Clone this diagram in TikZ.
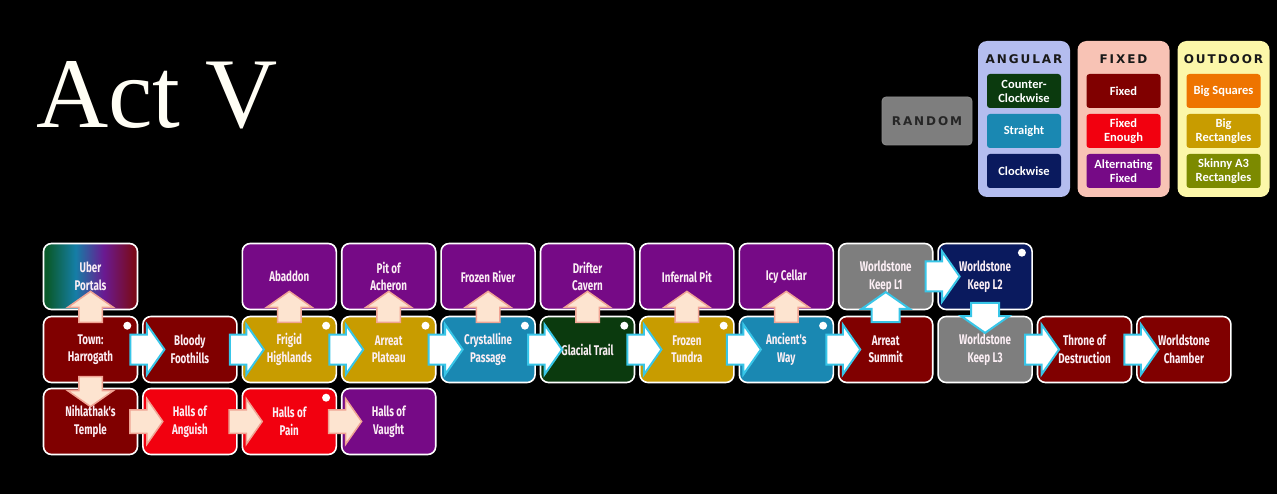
\documentclass[tikz,border=0pt]{standalone}
\usepackage{fontspec}
\setmainfont{Liberation Serif}
\newfontfamily\nodefont[FakeStretch=0.7]{Fira Sans}
\newfontfamily\legfont{Carlito}
\newfontfamily\exofont[LetterSpace=16]{DejaVu Sans}
\usetikzlibrary{shapes.arrows,calc}
\definecolor{cfixed}{HTML}{800000}
\definecolor{cenough}{HTML}{F2000F}
\definecolor{calt}{HTML}{760A86}
\definecolor{cccw}{HTML}{0B3A0E}
\definecolor{cstraight}{HTML}{1A88B2}
\definecolor{ccw}{HTML}{0A1A5E}
\definecolor{crandom}{HTML}{7E7E7E}
\definecolor{cgold}{HTML}{C89C00}
\definecolor{corange}{HTML}{EE7400}
\definecolor{colive}{HTML}{7C8A00}
\definecolor{pang}{HTML}{B4BDEF}
\definecolor{pfix}{HTML}{F8C3B5}
\definecolor{pout}{HTML}{FCF7A9}
\definecolor{acyan}{HTML}{38C6E8}
\definecolor{apeach}{HTML}{FDE4D0}
\definecolor{apeachb}{HTML}{F0A494}
\definecolor{ntext}{HTML}{FBEEF4}
\definecolor{ug1}{HTML}{0A5A2C}
\definecolor{ug2}{HTML}{157EA6}
\definecolor{ug3}{HTML}{6A1A92}
\definecolor{ug4}{HTML}{7A0A1A}
\pgfdeclarehorizontalshading{uber}{100bp}{color(0bp)=(ug1); color(27bp)=(ug1); color(42bp)=(ug2); color(57bp)=(ug3); color(73bp)=(ug4); color(100bp)=(ug4)}
\tikzset{
  loc/.style={draw=white, line width=1.6pt, rounded corners=8pt, minimum width=94pt, minimum height=66pt, inner sep=2pt, align=center, text=ntext, font=\nodefont\bfseries\fontsize{14}{17.5}\selectfont},
  carrow/.style={single arrow, single arrow head extend=10pt, single arrow tip angle=110, minimum height=34pt, inner xsep=0pt, inner ysep=14pt, fill=white, draw=acyan, line width=2pt},
  carrowv/.style={carrow, inner xsep=13pt, inner ysep=0pt, minimum height=30pt},
  parrow/.style={single arrow, single arrow head extend=11pt, single arrow tip angle=110, minimum height=33pt, inner xsep=0pt, inner ysep=11pt, fill=apeach, draw=apeachb, line width=1.5pt},
  parrowv/.style={parrow, inner xsep=11pt, inner ysep=0pt, minimum height=31pt},
  panel/.style={rounded corners=9pt, minimum width=92pt, minimum height=156pt, inner sep=0pt},
  legbox/.style={rounded corners=3pt, minimum width=74pt, minimum height=34pt, align=center, text=white, inner sep=1pt, font=\legfont\bfseries\fontsize{12.5}{14}\selectfont},
  ptitle/.style={inner sep=0pt, text=black!90, font=\exofont\bfseries\fontsize{12}{14}\selectfont},
  dot/.style={fill=white}
}
\begin{document}
\begin{tikzpicture}[x=1pt,y=-1pt]
\fill[black] (0,0) rectangle (1277,494);
\useasboundingbox (0,0) rectangle (1277,494);
% title
\node[anchor=base west, text=white!96!yellow, inner sep=0pt, font=\fontsize{100}{100}\selectfont] (title) at (36,128) {Act V};
% legend
\node[draw=black!45, line width=0.8pt, fill=crandom, rounded corners=4pt, minimum width=90pt, minimum height=48pt, inner sep=0pt] (random) at (927,121) {};
\node[ptitle, text=black!85] (randomt) at (random.center) {RANDOM};
\node[panel, fill=pang] (pang) at (1024,119) {};
\node[panel, fill=pfix] (pfix) at (1123.5,119) {};
\node[panel, fill=pout] (pout) at (1223.5,119) {};
\node[ptitle] (tang) at (1024,59) {ANGULAR};
\node[ptitle] (tfix) at (1123.5,59) {FIXED};
\node[ptitle] (tout) at (1223.5,59) {OUTDOOR};
\node[legbox, fill=cccw] (lccw) at (1024,91) {Counter-\\Clockwise};
\node[legbox, fill=cstraight] (lstr) at (1024,131) {Straight};
\node[legbox, fill=ccw] (lcw) at (1024,171) {Clockwise};
\node[legbox, fill=cfixed] (lfix) at (1123.5,91) {Fixed};
\node[legbox, fill=cenough] (lenough) at (1123.5,131) {Fixed\\Enough};
\node[legbox, fill=calt] (lalt) at (1123.5,171) {Alternating\\Fixed};
\node[legbox, fill=corange] (lsq) at (1223.5,91) {Big Squares};
\node[legbox, fill=cgold] (lrect) at (1223.5,131) {Big\\Rectangles};
\node[legbox, fill=colive] (lskinny) at (1223.5,171) {Skinny A3\\Rectangles};
% row 1
\node[loc, shade, shading=uber] (uber) at (90.5,276.5) {Uber\\Portals};
\node[loc, fill=calt] (abaddon) at (289.3,276.5) {Abaddon};
\node[loc, fill=calt] (pit) at (388.7,276.5) {Pit of\\Acheron};
\node[loc, fill=calt] (river) at (488.1,276.5) {Frozen River};
\node[loc, fill=calt] (drifter) at (587.5,276.5) {Drifter\\Cavern};
\node[loc, fill=calt] (infernal) at (686.9,276.5) {Infernal Pit};
\node[loc, fill=calt] (icy) at (786.3,276.5) {Icy Cellar};
\node[loc, fill=crandom] (wk1) at (885.7,276.5) {Worldstone\\Keep L1};
\node[loc, fill=ccw] (wk2) at (985.1,276.5) {Worldstone\\Keep L2};
% row 2
\node[loc, fill=cfixed] (town) at (90.5,349.5) {Town:\\Harrogath};
\node[loc, fill=cfixed] (bloody) at (189.9,349.5) {Bloody\\Foothills};
\node[loc, fill=cgold] (frigid) at (289.3,349.5) {Frigid\\Highlands};
\node[loc, fill=cgold] (plateau) at (388.7,349.5) {Arreat\\Plateau};
\node[loc, fill=cstraight] (crystal) at (488.1,349.5) {Crystalline\\Passage};
\node[loc, fill=cccw] (glacial) at (587.5,349.5) {Glacial Trail};
\node[loc, fill=cgold] (tundra) at (686.9,349.5) {Frozen\\Tundra};
\node[loc, fill=cstraight] (ancient) at (786.3,349.5) {Ancient's\\Way};
\node[loc, fill=cfixed] (summit) at (885.7,349.5) {Arreat\\Summit};
\node[loc, fill=crandom] (wk3) at (985.1,349.5) {Worldstone\\Keep L3};
\node[loc, fill=cfixed] (throne) at (1084.5,349.5) {Throne of\\Destruction};
\node[loc, fill=cfixed] (chamber) at (1183.9,349.5) {Worldstone\\Chamber};
% row 3
\node[loc, fill=cfixed] (nihl) at (90.5,421.5) {Nihlathak's\\Temple};
\node[loc, fill=cenough] (anguish) at (189.9,421.5) {Halls of\\Anguish};
\node[loc, fill=cenough] (pain) at (289.3,421.5) {Halls of\\Pain};
\node[loc, fill=calt] (vaught) at (388.7,421.5) {Halls of\\Vaught};
% dots
\foreach \n in {town,frigid,plateau,crystal,glacial,tundra,ancient,wk2,pain}
  \fill[dot] ($(\n.north east)+(-11,10)$) circle (4pt);
% cyan arrows
\foreach \a/\b in {town/bloody,bloody/frigid,frigid/plateau,plateau/crystal,crystal/glacial,glacial/tundra,tundra/ancient,ancient/summit,wk3/throne,throne/chamber,wk1/wk2}
  \node[carrow] at ($(\a.east)!0.5!(\b.west)+(2,0)$) {};
\node[carrowv, shape border rotate=90] at ($(summit.north)!0.5!(wk1.south)+(0,-1)$) {};
\node[carrowv, shape border rotate=270] at ($(wk2.south)!0.5!(wk3.north)+(0,0)$) {};
% peach arrows
\foreach \a/\b in {town/uber,frigid/abaddon,plateau/pit,crystal/river,glacial/drifter,tundra/infernal,ancient/icy}
  \node[parrowv, shape border rotate=90] at ($(\a.north)!0.5!(\b.south)+(0,-2)$) {};
\node[parrowv, shape border rotate=270, minimum height=30pt] at ($(town.south)!0.5!(nihl.north)+(0,2)$) {};
\foreach \a/\b in {nihl/anguish,anguish/pain,pain/vaught}
  \node[parrow] at ($(\a.east)!0.5!(\b.west)+(2,0)$) {};
\end{tikzpicture}
\end{document}
